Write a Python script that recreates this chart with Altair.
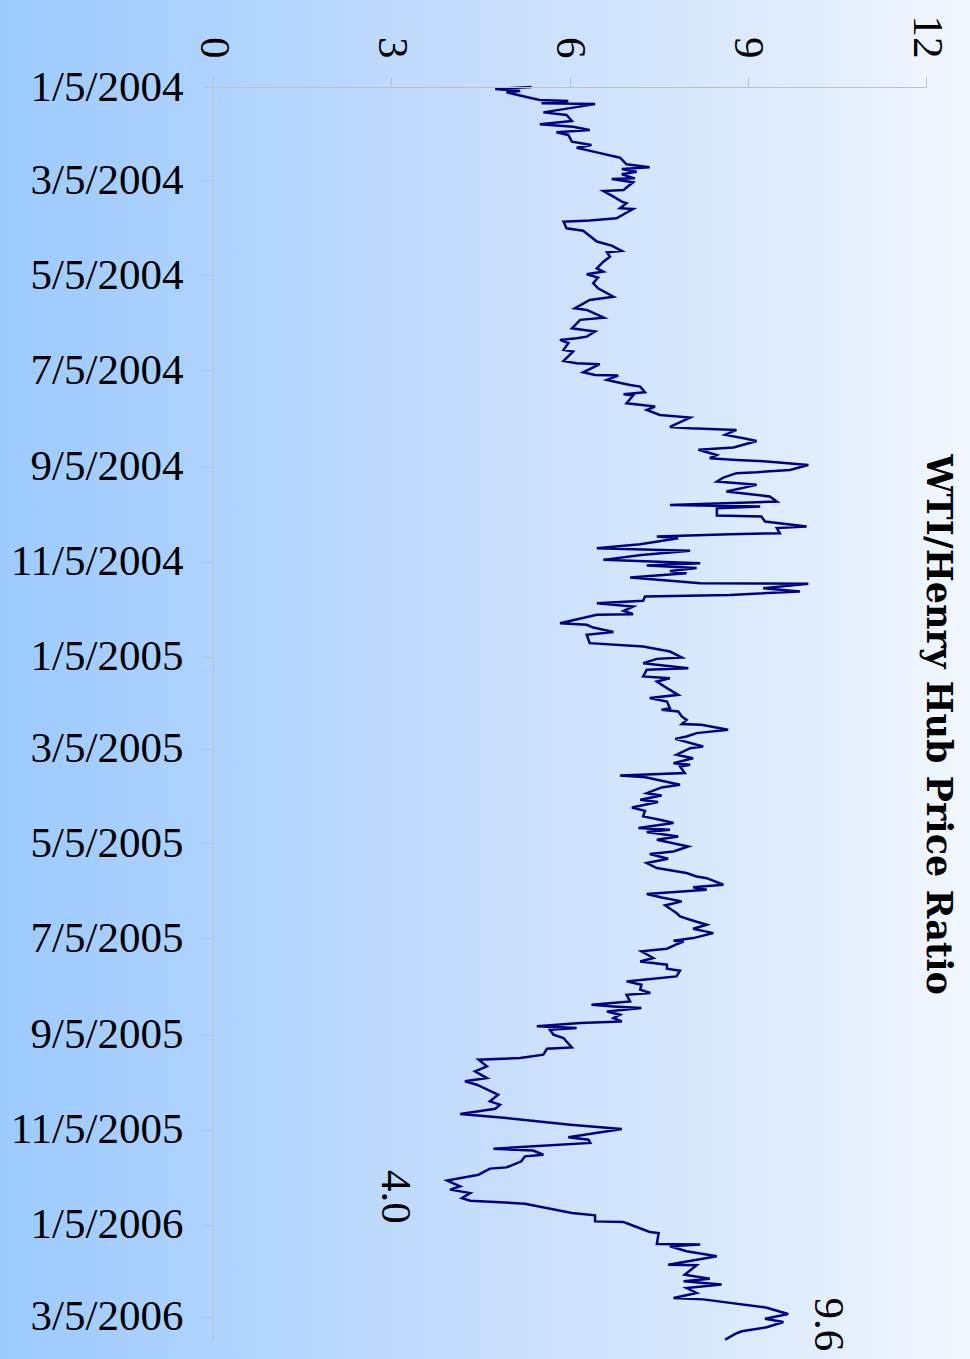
import altair as alt
import pandas as pd

# ---------------- data ----------------
START = "2004-01-05"

# days after 1/5/2004 of each plotted point
day_offset = [
    0.0, 1.3, 2.6, 3.4, 6.9, 8.3, 9.0, 10.5, 11.0, 16.3, 18.0, 21.8, 24.0, 25.5, 27.6,
    29.1, 30.8, 35.1, 37.3, 39.0, 42.0, 45.4, 49.7, 51.6, 52.7, 54.4, 56.1, 58.7, 59.1,
    61.2, 66.2, 66.8, 70.4, 73.6, 74.7, 77.9, 78.4, 84.4, 85.8, 86.5, 90.8, 92.3, 99.3,
    101.9, 105.3, 106.2, 109.0, 112.2, 116.5, 118.6, 120.3, 122.5, 126.1, 129.3,
    134.7, 136.8, 142.2, 143.2, 148.2, 149.6, 155.0, 157.1, 160.4, 161.4, 162.5, 164.6,
    168.9, 170.0, 176.0, 177.5, 178.1, 183.3, 185.0, 185.4, 188.2, 190.3, 191.4, 192.5,
    196.1, 197.4, 198.2, 203.2, 205.3, 207.5, 210.7, 212.4, 218.4, 219.2, 220.3, 223.5,
    225.7, 227.4, 231.6, 233.1, 236.4, 238.5, 239.6, 240.6, 242.8, 246.0, 247.5, 248.1,
    250.9, 253.5, 255.6, 259.9, 263.1,
    266.3, 268.5, 269.5, 270.6, 275.3, 276.0, 279.2, 282.4, 283.4, 286.7, 287.3, 288.8,
    289.9, 293.7, 296.3, 298.0, 300.6, 303.8, 305.9, 307.4, 309.1, 310.9, 312.4, 315.1,
    317.3, 318.8, 319.2, 322.0, 324.1, 326.3, 327.3, 330.1, 331.6, 333.8, 336.5, 338.7,
    339.1, 344.5, 345.5, 347.3, 350.2, 351.9, 357.3, 359.5, 362.7, 366.5, 367.4, 370.2,
    373.4, 374.4, 378.7, 379.8, 381.9, 386.2, 390.5, 392.6, 394.8, 399.1,
    400.1, 401.2, 404.4, 406.6, 409.3, 409.8, 413.0, 415.1, 417.3, 418.8, 423.7, 424.8,
    429.0, 431.2, 434.4, 435.5, 436.5, 440.8, 442.3, 443.5, 448.3, 450.0, 453.7, 455.2,
    457.9, 459.4, 462.9, 465.0, 468.6, 470.8, 472.9, 476.1, 477.2, 478.7, 481.5, 483.6,
    487.9, 491.1, 492.8, 495.8, 498.6, 501.8, 505.0, 507.2, 508.3, 512.5, 514.2, 515.7,
    518.5, 520.7, 523.2, 525.8, 530.7,
    532.9, 535.0, 538.2, 540.8, 543.6, 546.8, 548.5, 549.0, 551.1, 553.6, 555.3, 559.6,
    561.8, 563.9, 566.5, 567.8, 571.4, 573.5, 574.6, 576.8, 580.0, 582.1, 583.2, 587.5,
    589.6, 590.7, 591.7, 593.9, 596.0, 598.2, 600.3, 601.4, 603.5, 604.6, 605.7, 608.9,
    611.0, 613.2, 617.0, 617.9, 621.7, 623.8, 624.9, 629.2, 632.4, 636.7, 638.8, 641.0,
    647.4, 651.7, 653.8, 656.4, 658.1, 659.8, 662.4, 664.5, 666.7,
    669.5, 674.8, 676.3, 678.4, 682.1, 683.3, 686.0, 687.0, 690.2, 694.1, 694.9, 698.8,
    700.5, 702.6, 706.3, 708.4, 710.6, 713.8, 715.5, 717.4, 723.4, 724.9, 728.8, 729.2,
    735.6, 736.3, 743.3, 743.7, 744.8, 748.0, 751.2, 756.6, 757.0, 763.0, 765.6, 767.3,
    769.4, 771.6, 774.8, 778.0, 778.9, 784.0, 788.3, 791.3, 793.4, 796.8, 799.4, 801.1,
    804.8,
]

# WTI / Henry Hub price ratio at each point
ratio = [
    5.36, 4.75, 5.17, 4.94, 5.33, 5.50, 5.98, 5.53, 6.43, 5.56, 5.95, 6.04, 5.50, 6.06, 6.34,
    5.78, 5.98, 6.04, 6.37, 6.12, 6.46, 6.85, 6.96, 7.35, 6.88, 7.13, 6.88, 7.10, 6.71,
    7.07, 6.91, 6.57, 6.74, 6.88, 6.96, 6.85, 7.07, 6.79, 6.34, 5.90, 5.95, 6.23, 6.46,
    6.71, 6.88, 6.63, 6.68, 6.57, 6.46, 6.57, 6.29, 6.48, 6.40, 6.48,
    6.74, 6.34, 6.09, 6.29, 6.58, 6.18, 6.04, 6.43, 6.29, 6.12, 5.84, 5.98,
    5.90, 6.06, 5.90, 6.12, 6.51, 6.23, 6.43, 6.82, 6.63, 6.88, 7.02, 7.19,
    7.27, 6.91, 7.07, 6.96, 7.44, 7.30, 7.52, 8.03, 7.69, 8.03, 8.81, 8.62,
    8.93, 9.15, 8.76, 8.17, 8.48, 8.36, 8.81, 9.32, 10.02, 9.71, 9.15, 8.81,
    8.59, 8.48, 9.15, 8.64, 9.37,
    9.49, 7.69, 9.21, 8.48, 8.48, 9.23, 9.29, 9.99, 9.49, 9.54, 8.70, 7.47,
    7.83, 7.19, 6.46, 8.03, 7.21, 6.57, 8.20, 7.30, 8.14, 7.69, 7.97, 7.02,
    7.75, 8.20, 10.02, 9.26, 9.88, 8.70, 7.27, 7.24, 6.46, 7.07, 6.91, 7.07,
    6.46, 5.84, 6.29, 6.40, 6.74, 6.29, 6.34, 7.24, 7.69, 7.89, 7.47, 7.24,
    8.00, 7.30, 7.24, 7.69, 7.47, 7.64, 7.83, 7.35, 7.64, 7.69,
    7.55, 7.83, 7.89, 7.97, 7.89, 8.22, 8.67, 8.14, 7.97, 7.78, 8.25, 8.03,
    7.80, 8.08, 7.75, 8.03, 7.86, 7.94, 6.85, 7.28, 7.86, 7.55, 7.30, 7.55,
    7.19, 7.49, 7.05, 7.27, 7.24, 7.52, 7.75, 7.16, 7.69, 7.30, 7.83, 7.47,
    8.00, 7.75, 7.35, 7.66, 7.30, 7.47, 7.97, 8.14, 8.31, 8.59, 8.08, 8.31,
    7.30, 7.55, 7.89, 7.61, 7.80,
    7.86, 8.03, 8.31, 8.08, 8.42, 8.08, 7.75, 7.92, 7.78, 7.64, 7.21, 7.41,
    7.19, 7.64, 7.64, 7.86, 7.80, 7.24, 6.96, 7.21, 7.19, 7.36, 6.96, 7.02,
    6.37, 6.74, 7.21, 6.63, 6.85, 6.74, 6.88, 6.18, 5.45, 6.12, 5.67, 5.73,
    5.90, 5.95, 6.04, 5.62, 5.56, 5.17, 4.47, 4.61, 4.41, 4.61, 4.24, 4.44,
    4.80, 4.66, 4.83, 4.75, 4.47, 4.16, 4.94, 5.45, 6.01,
    6.88, 5.98, 6.32, 6.35, 4.72, 5.39, 5.56, 5.25, 5.19, 4.94, 4.66, 4.47,
    4.24, 3.94, 4.16, 3.99, 4.33, 4.19, 4.33, 5.25, 6.04, 6.43, 6.43, 6.91,
    7.35, 7.50, 7.47, 8.20, 7.69, 7.97, 8.48, 7.66, 8.14, 7.94, 8.36, 7.92,
    8.56, 7.97, 8.14, 7.75, 8.25, 9.29, 9.68, 9.29, 9.60, 9.32, 8.90, 8.79,
    8.62,
]

# axis tick values
value_ticks = [0, 3, 6, 9, 12]
date_ticks = [
    (2004, 1, 5), (2004, 3, 5), (2004, 5, 5), (2004, 7, 5), (2004, 9, 5), (2004, 11, 5),
    (2005, 1, 5), (2005, 3, 5), (2005, 5, 5), (2005, 7, 5), (2005, 9, 5), (2005, 11, 5),
    (2006, 1, 5), (2006, 3, 5),
]
date_domain = [(2004, 1, 5), (2006, 3, 20)]

# data labels shown on the chart
annot_day_offset = [713.0, 795.0]
annot_value = [4.0, 9.6]
annot_text = ["4.0", "9.6"]

title_text = "WTI/Henry Hub Price Ratio"

# ---------------- chart ----------------
FONT = "Liberation Serif"
LABEL_SIZE = 43
AXIS_GRAY = "#c0c0c0"

start = pd.Timestamp(START)
df = pd.DataFrame({
    "date": start + pd.to_timedelta(day_offset, unit="D"),
    "ratio": ratio,
})
ann = pd.DataFrame({
    "date": start + pd.to_timedelta(annot_day_offset, unit="D"),
    "ratio": annot_value,
    "label": annot_text,
})


def dt(t):
    return alt.DateTime(year=t[0], month=t[1], date=t[2])


x_enc = alt.X(
    "ratio:Q",
    scale=alt.Scale(domain=[0, 12], nice=False, zero=True),
    axis=alt.Axis(
        orient="top", values=value_ticks, labelAngle=90, labelAlign="right",
        labelBaseline="middle", labelFont=FONT, labelFontSize=LABEL_SIZE, labelColor="black",
        labelPadding=19, labelFlush=False, labelOverlap=False, tickSize=10,
        tickColor=AXIS_GRAY, domainColor=AXIS_GRAY, grid=False, title=None, zindex=1,
    ),
)
y_enc = alt.Y(
    "date:T",
    scale=alt.Scale(domain=[dt(d) for d in date_domain], reverse=True, nice=False),
    axis=alt.Axis(
        orient="left", values=[dt(d) for d in date_ticks], format="%-m/%-d/%Y",
        labelFont=FONT, labelFontSize=LABEL_SIZE, labelColor="black", labelPadding=19,
        labelFlush=False, labelOverlap=False, tickSize=11, tickColor=AXIS_GRAY,
        domainColor=AXIS_GRAY, grid=False, title=None, zindex=1,
    ),
)

bg = alt.Chart(alt.Data(values=[{"k": 0}])).mark_rect(
    color=alt.LinearGradient(
        gradient="linear",
        stops=[
            alt.GradientStop(color="#9ccaff", offset=0),
            alt.GradientStop(color="#c2dcfc", offset=0.45),
            alt.GradientStop(color="#e3eefd", offset=0.85),
            alt.GradientStop(color="#f3f8ff", offset=1),
        ],
        x1=0, x2=1, y1=0, y2=0,
    )
).encode(
    x=alt.value(-213), x2=alt.value(757), y=alt.value(-87), y2=alt.value(1272)
)

line = alt.Chart(df).mark_line(color="#000080", strokeWidth=2.5).encode(
    x=x_enc, y=y_enc, order=alt.Order("date:T")
)

ann_low = alt.Chart(ann).transform_filter(alt.datum.label == "4.0").mark_text(
    angle=90, font=FONT, fontSize=LABEL_SIZE, color="black", align="center",
    baseline="middle", dy=56,
).encode(x=x_enc, y=y_enc, text="label:N")

ann_high = alt.Chart(ann).transform_filter(alt.datum.label == "9.6").mark_text(
    angle=90, font=FONT, fontSize=LABEL_SIZE, color="black", align="center",
    baseline="middle", dy=-45,
).encode(x=x_enc, y=y_enc, text="label:N")

chart = alt.layer(bg, line, ann_low, ann_high).properties(
    width=713,
    height=1253,
    padding={"left": 213, "top": 87, "right": 44, "bottom": 19},
    autosize=alt.AutoSizeParams(type="none"),
    background="#cfe3fd",
    title=alt.TitleParams(
        title_text, orient="right", anchor="middle", angle=90, frame="group",
        font="DejaVu Serif", fontSize=35, fontWeight="bold", color="black",
        baseline="middle", offset=-67, dx=11, zindex=1,
    ),
).configure_view(stroke="transparent")

chart.save("out.html", embed_options={"renderer": "svg", "actions": False})
